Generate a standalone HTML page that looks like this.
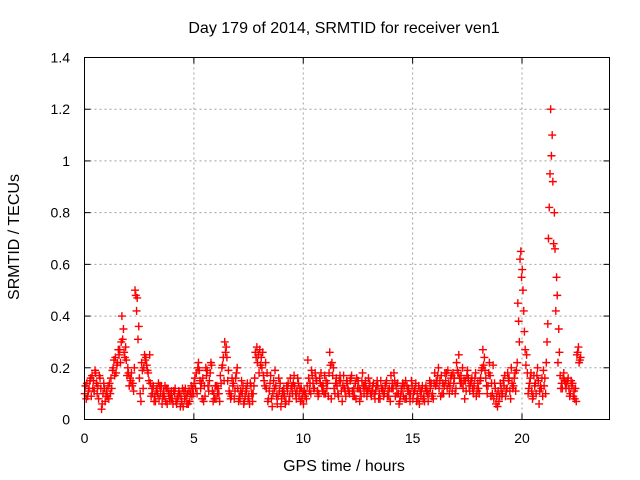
<!DOCTYPE html>
<html><head><meta charset="utf-8"><style>
body{margin:0;background:#fff;}
svg{display:block;font-family:"Liberation Sans",sans-serif;}
</style></head><body>
<svg id="chart" width="640" height="480">
<text x="344" y="33" text-anchor="middle" font-size="16">Day 179 of 2014, SRMTID for receiver ven1</text>
<text x="344" y="471" text-anchor="middle" font-size="16">GPS time / hours</text>
<text transform="translate(19,237) rotate(-90)" text-anchor="middle" font-size="16">SRMTID / TECUs</text>
<g id="grid"></g><g id="ticks"></g><g id="marks"></g>
<rect x="84.5" y="57.5" width="525" height="362" fill="none" stroke="#000"/>
</svg>
<script>
const xTicks=[0,5,10,15,20];
const yTicks=[0,0.2,0.4,0.6,0.8,1,1.2,1.4];
const yTickLabels=["0","0.2","0.4","0.6","0.8","1","1.2","1.4"];
const seriesA=[0.10,0.14,0.12,0.09,0.15,0.18,0.13,0.16,0.06,0.12,
0.11,0.08,0.16,0.20,0.24,0.22,0.27,0.40,0.26,0.23,
0.18,0.15,0.14,0.50,0.47,0.16,0.22,0.20,0.24,0.18,
0.14,0.10,0.09,0.12,0.08,0.13,0.11,0.07,0.12,0.10,
0.08,0.10,0.06,0.11,0.09,0.05,0.12,0.10,0.07,0.09,
0.14,0.18,0.22,0.12,0.16,0.09,0.19,0.15,0.21,0.10,
0.08,0.12,0.17,0.21,0.30,0.24,0.11,0.09,0.14,0.16,
0.12,0.08,0.10,0.07,0.11,0.09,0.13,0.10,0.26,0.22,
0.27,0.20,0.15,0.12,0.08,0.17,0.10,0.19,0.06,0.11,
0.08,0.12,0.07,0.14,0.16,0.10,0.13,0.11,0.09,0.12,
0.06,0.10,0.23,0.14,0.17,0.12,0.15,0.10,0.18,0.13,
0.10,0.14,0.26,0.22,0.12,0.16,0.09,0.15,0.13,0.11,
0.14,0.10,0.17,0.12,0.08,0.15,0.11,0.18,0.13,0.09,
0.12,0.09,0.14,0.11,0.13,0.08,0.12,0.10,0.15,0.09,
0.17,0.12,0.09,0.14,0.07,0.11,0.13,0.08,0.12,0.10,
0.08,0.12,0.10,0.06,0.11,0.09,0.13,0.07,0.12,0.10,
0.18,0.14,0.12,0.17,0.10,0.15,0.19,0.13,0.11,0.16,
0.22,0.25,0.17,0.12,0.15,0.19,0.11,0.16,0.13,0.09,
0.12,0.16,0.27,0.19,0.10,0.22,0.14,0.08,0.06,0.11,
0.14,0.10,0.17,0.12,0.16,0.20,0.13,0.11,0.45,0.62,
0.58,0.34,0.25,0.12,0.18,0.09,0.14,0.20,0.11,0.16,
0.13,0.22,0.70,1.20,0.92,0.66,0.48,0.26,0.14,0.18,
0.12,0.16,0.10,0.14,0.08,0.25,0.22];
const seriesB=[0.08,0.11,0.16,0.12,0.19,0.10,0.17,0.04,0.14,0.09,
0.13,0.10,0.19,0.17,0.21,0.25,0.30,0.35,0.28,0.20,
0.16,0.13,0.20,0.42,0.36,0.07,0.12,0.23,0.19,0.25,
0.12,0.07,0.11,0.14,0.10,0.09,0.13,0.06,0.08,0.11,
0.11,0.07,0.09,0.05,0.12,0.08,0.06,0.11,0.13,0.10,
0.12,0.20,0.15,0.08,0.13,0.17,0.11,0.22,0.07,0.13,
0.10,0.07,0.20,0.15,0.28,0.19,0.08,0.13,0.11,0.20,
0.09,0.15,0.06,0.12,0.08,0.14,0.07,0.16,0.28,0.18,
0.24,0.17,0.22,0.07,0.14,0.05,0.12,0.09,0.16,0.05,
0.10,0.06,0.11,0.09,0.13,0.17,0.08,0.14,0.07,0.10,
0.09,0.13,0.11,0.19,0.12,0.16,0.09,0.14,0.11,0.17,
0.12,0.18,0.08,0.20,0.14,0.10,0.17,0.07,0.12,0.15,
0.11,0.16,0.09,0.14,0.12,0.07,0.15,0.10,0.12,0.16,
0.10,0.13,0.08,0.15,0.10,0.12,0.09,0.14,0.11,0.07,
0.14,0.15,0.10,0.06,0.12,0.09,0.15,0.11,0.07,0.13,
0.11,0.07,0.13,0.09,0.08,0.12,0.10,0.15,0.09,0.14,
0.15,0.20,0.09,0.14,0.18,0.12,0.10,0.17,0.14,0.12,
0.18,0.14,0.20,0.08,0.17,0.13,0.15,0.10,0.18,0.14,
0.15,0.20,0.24,0.13,0.18,0.09,0.21,0.12,0.05,0.09,
0.09,0.13,0.11,0.15,0.08,0.12,0.18,0.22,0.30,0.55,
0.42,0.21,0.10,0.16,0.08,0.13,0.17,0.06,0.12,0.19,
0.10,0.37,0.95,1.10,0.80,0.55,0.35,0.12,0.16,0.14,
0.15,0.09,0.13,0.11,0.07,0.28,0.24];
const seriesC=[0.13,0.09,0.15,0.17,0.11,0.14,0.08,0.12,0.10,0.07,
0.09,0.14,0.12,0.23,0.18,0.27,0.22,0.31,0.24,0.17,
0.13,0.18,0.11,0.48,0.31,0.10,0.19,0.25,0.21,0.15,
0.09,0.13,0.07,0.10,0.13,0.06,0.09,0.12,0.10,0.08,
0.06,0.12,0.08,0.10,0.07,0.11,0.09,0.06,0.10,0.12,
0.16,0.10,0.19,0.14,0.07,0.20,0.13,0.18,0.11,0.08,
0.13,0.10,0.14,0.24,0.26,0.15,0.10,0.16,0.08,0.18,
0.07,0.11,0.13,0.09,0.14,0.06,0.10,0.13,0.24,0.25,
0.21,0.26,0.13,0.18,0.11,0.08,0.15,0.13,0.09,0.14,
0.11,0.09,0.13,0.07,0.12,0.14,0.10,0.16,0.12,0.08,
0.11,0.08,0.16,0.10,0.14,0.18,0.11,0.16,0.13,0.10,
0.15,0.09,0.21,0.17,0.10,0.13,0.15,0.11,0.17,0.09,
0.12,0.15,0.11,0.09,0.16,0.12,0.09,0.13,0.15,0.11,
0.14,0.11,0.10,0.13,0.08,0.15,0.11,0.13,0.09,0.12,
0.12,0.18,0.13,0.10,0.09,0.14,0.08,0.13,0.10,0.15,
0.10,0.14,0.08,0.11,0.13,0.07,0.11,0.10,0.14,0.08,
0.13,0.17,0.15,0.10,0.13,0.18,0.14,0.16,0.18,0.10,
0.19,0.16,0.14,0.15,0.11,0.16,0.14,0.12,0.16,0.11,
0.10,0.19,0.21,0.16,0.13,0.17,0.10,0.14,0.09,0.07,
0.12,0.15,0.09,0.18,0.11,0.14,0.16,0.19,0.38,0.65,
0.50,0.27,0.18,0.14,0.11,0.17,0.10,0.15,0.13,0.09,
0.16,0.30,0.82,1.02,0.68,0.42,0.22,0.17,0.12,0.15,
0.14,0.12,0.15,0.09,0.12,0.26,0.23];
const X0=84.5,X1=609.5,Y0=419.5,Y1=57.5,XMAX=24,YMAX=1.4;
function xs(v){return X0+(X1-X0)*v/XMAX;}
function ys(v){return Y0-(Y0-Y1)*v/YMAX;}
const NS="http://www.w3.org/2000/svg";
const grid=document.getElementById('grid'),ticks=document.getElementById('ticks'),marks=document.getElementById('marks');
function mk(tag,attrs,parent){const e=document.createElementNS(NS,tag);for(const k in attrs)e.setAttribute(k,attrs[k]);parent.appendChild(e);return e;}
xTicks.forEach(t=>{
  const x=xs(t);
  if(t>0){const g=mk('line',{x1:x,x2:x,y1:Y0,y2:Y1,stroke:'#a0a0a0','stroke-dasharray':'2,3'},grid);
  
  }
  mk('line',{x1:x,x2:x,y1:Y0,y2:Y0-6,stroke:'#000'},ticks);
  mk('line',{x1:x,x2:x,y1:Y1,y2:Y1+6,stroke:'#000'},ticks);
  const l=mk('text',{x:x,y:443,'text-anchor':'middle','font-size':'14'},ticks);l.textContent=t;
  
  
});
yTicks.forEach((t,i)=>{
  const y=ys(t);
  if(t>0&&t<1.4){const g=mk('line',{x1:X0,x2:X1,y1:y,y2:y,stroke:'#a0a0a0','stroke-dasharray':'2,3'},grid);
  
  }
  mk('line',{x1:X0,x2:X0+6,y1:y,y2:y,stroke:'#000'},ticks);
  mk('line',{x1:X1,x2:X1-6,y1:y,y2:y,stroke:'#000'},ticks);
  const l=mk('text',{x:70,y:y+5,'text-anchor':'end','font-size':'14'},ticks);l.textContent=yTickLabels[i];
  
  
});
function plus(h,v){
  const x=xs(h),y=ys(v);
  const p=mk('path',{d:`M${x-4},${y}H${x+4}M${x},${y-4}V${y+4}`,stroke:'#f00','stroke-width':'1.4',fill:'none'},marks);
  
  
}
seriesA.forEach((v,i)=>plus(i*0.1+0.01,v));
seriesC.forEach((v,i)=>plus(i*0.1+0.045,v));
seriesB.forEach((v,i)=>plus(i*0.1+0.08,v));
</script>
</body></html>
